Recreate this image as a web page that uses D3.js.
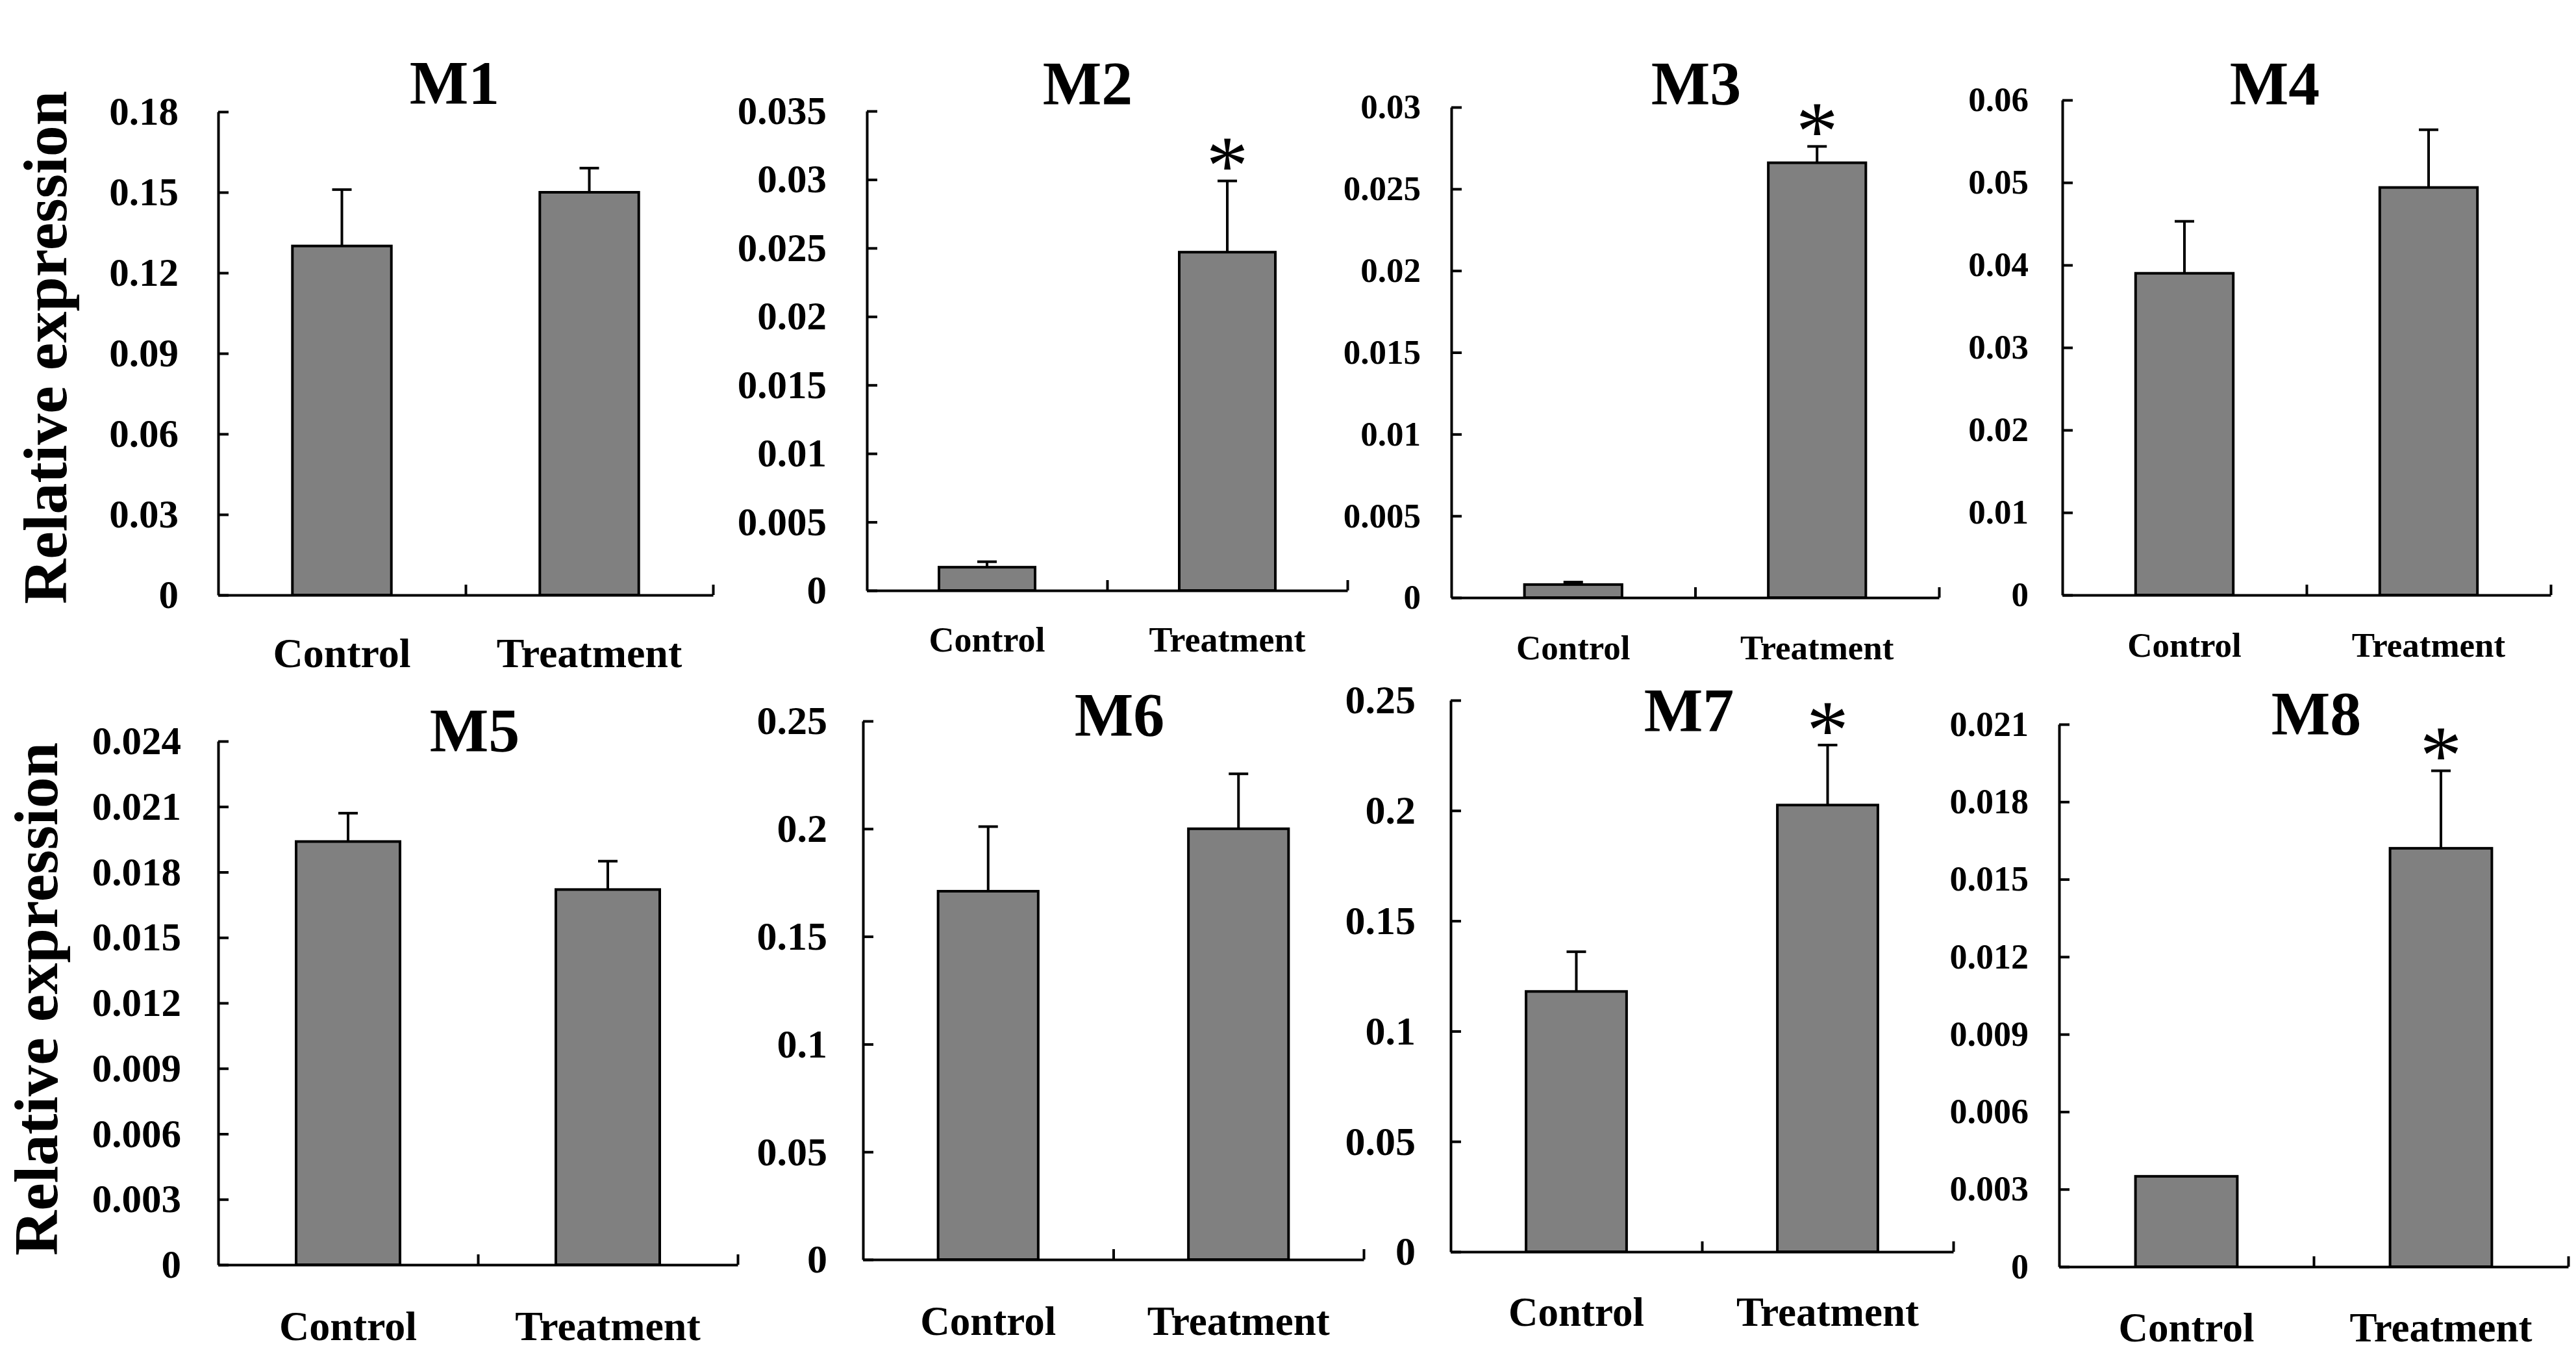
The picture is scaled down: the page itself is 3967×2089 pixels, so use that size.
<!DOCTYPE html>
<html>
<head>
<meta charset="utf-8">
<script src="https://cdn.jsdelivr.net/npm/d3@7"></script>
<style>
  body { margin: 0; background: #fff; }
  svg { display: block; }
  text { font-family: "Liberation Serif", "Times New Roman", serif; font-weight: bold; fill: #000; }
</style>
</head>
<body>
<script>
// Datos
var genes = ["M1", "M2", "M3", "M4", "M5", "M6", "M7", "M8"];
var categories = ["Control", "Treatment"];
var controlMean = [0.130, 0.0017, 0.0008, 0.039, 0.0194, 0.171, 0.118, 0.0035];
var controlErr = [0.021, 0.0004, 0.00015, 0.0063, 0.0013, 0.030, 0.018, 0];
var treatmentMean = [0.150, 0.0247, 0.0266, 0.0494, 0.0172, 0.200, 0.2025, 0.0162];
var treatmentErr = [0.009, 0.0052, 0.001, 0.007, 0.0013, 0.0255, 0.0272, 0.0030];
var significant = [false, true, true, false, false, false, true, true];
var yMax = [0.18, 0.035, 0.03, 0.06, 0.024, 0.25, 0.25, 0.021];
var yStep = [0.03, 0.005, 0.005, 0.01, 0.003, 0.05, 0.05, 0.003];
var yLabel = "Relative expression";

// Posicion de cada panel en el lienzo
var panels = [
  {x0: 336, x1: 1098, yTop: 172, y0: 916, tickFont: 61, tickPad: 61, catFont: 64, catY: 1027, titleX: 700, titleY: 160},
  {x0: 1335, x1: 2075, yTop: 171, y0: 909, tickFont: 61, tickPad: 62, catFont: 54, catY: 1003, titleX: 1675, titleY: 161},
  {x0: 2235, x1: 2986, yTop: 165, y0: 920, tickFont: 53, tickPad: 47, catFont: 53, catY: 1015, titleX: 2612, titleY: 161},
  {x0: 3176, x1: 3928, yTop: 154, y0: 916, tickFont: 53, tickPad: 52, catFont: 53, catY: 1011, titleX: 3503, titleY: 161},
  {x0: 336, x1: 1136, yTop: 1141, y0: 1947, tickFont: 61, tickPad: 57, catFont: 64, catY: 2063, titleX: 731, titleY: 1157},
  {x0: 1329, x1: 2100, yTop: 1110, y0: 1939, tickFont: 62, tickPad: 55, catFont: 63, catY: 2055, titleX: 1724, titleY: 1133},
  {x0: 2234, x1: 3008, yTop: 1078, y0: 1927, tickFont: 62, tickPad: 54, catFont: 63, catY: 2041, titleX: 2601, titleY: 1126},
  {x0: 3171, x1: 3955, yTop: 1115, y0: 1950, tickFont: 54, tickPad: 47, catFont: 63, catY: 2065, titleX: 3567, titleY: 1131}
];
var rowLabels = [{x: 102, y: 535}, {x: 88, y: 1538}];

var width = 3967, height = 2089;
var lineW = 4, capHalf = 15, tickLen = 16, starSize = 130;

var svg = d3.select("body").append("svg")
  .attr("width", width)
  .attr("height", height);

svg.append("rect").attr("width", width).attr("height", height).attr("fill", "#fff");

var fmt = function(v) { return String(+v.toFixed(4)); };

genes.forEach(function(gene, i) {
  var p = panels[i];
  var g = svg.append("g");

  var y = d3.scaleLinear().domain([0, yMax[i]]).range([p.y0, p.yTop]);
  var x = d3.scaleBand().domain(categories).range([p.x0, p.x1])
    .paddingInner(0.6).paddingOuter(0.3);
  var xt = d3.scaleLinear().domain([0, 2]).range([p.x0, p.x1]);

  var ticks = d3.range(0, Math.round(yMax[i] / yStep[i]) + 1).map(function(k) { return k * yStep[i]; });

  // Eje Y con marcas hacia dentro
  var ya = g.append("g")
    .call(d3.axisLeft(y).tickValues(ticks).tickFormat(fmt)
      .tickSize(-tickLen).tickSizeOuter(0).tickPadding(p.tickPad))
    .attr("transform", "translate(" + p.x0 + ",0)")
    .attr("font-size", p.tickFont);
  ya.selectAll("line, path").attr("stroke", "#000").attr("stroke-width", lineW);

  // Eje X: solo marcas en los limites de categoria
  var xa = g.append("g")
    .attr("transform", "translate(0," + p.y0 + ")")
    .call(d3.axisBottom(xt).tickValues([1, 2]).tickFormat("")
      .tickSize(-tickLen).tickSizeOuter(0));
  xa.selectAll("line, path").attr("stroke", "#000").attr("stroke-width", lineW);

  var rows = categories.map(function(c, j) {
    return {
      cat: c,
      mean: j === 0 ? controlMean[i] : treatmentMean[i],
      err: j === 0 ? controlErr[i] : treatmentErr[i]
    };
  });

  g.selectAll("rect.bar")
    .data(rows)
    .enter()
    .append("rect")
    .attr("class", "bar")
    .attr("x", function(d) { return x(d.cat); })
    .attr("y", function(d) { return y(d.mean); })
    .attr("width", x.bandwidth())
    .attr("height", function(d) { return y(0) - y(d.mean); })
    .attr("fill", "#808080")
    .attr("stroke", "#000")
    .attr("stroke-width", lineW);

  var withErr = rows.filter(function(d) { return d.err > 0; });
  var cx = function(d) { return x(d.cat) + x.bandwidth() / 2; };

  g.selectAll("line.err")
    .data(withErr)
    .enter()
    .append("line")
    .attr("class", "err")
    .attr("x1", cx).attr("x2", cx)
    .attr("y1", function(d) { return y(d.mean); })
    .attr("y2", function(d) { return y(d.mean + d.err); })
    .attr("stroke", "#000").attr("stroke-width", lineW);

  g.selectAll("line.cap")
    .data(withErr)
    .enter()
    .append("line")
    .attr("class", "cap")
    .attr("x1", function(d) { return cx(d) - capHalf; })
    .attr("x2", function(d) { return cx(d) + capHalf; })
    .attr("y1", function(d) { return y(d.mean + d.err); })
    .attr("y2", function(d) { return y(d.mean + d.err); })
    .attr("stroke", "#000").attr("stroke-width", lineW);

  // Etiquetas de categoria
  g.selectAll("text.cat")
    .data(categories)
    .enter()
    .append("text")
    .attr("class", "cat")
    .attr("x", function(c) { return x(c) + x.bandwidth() / 2; })
    .attr("y", p.catY)
    .attr("text-anchor", "middle")
    .attr("font-size", p.catFont)
    .text(function(c) { return c; });

  // Titulo
  g.append("text")
    .attr("x", p.titleX)
    .attr("y", p.titleY)
    .attr("text-anchor", "middle")
    .attr("font-size", 96)
    .text(gene);

  // Asterisco de significancia
  if (significant[i]) {
    var t = rows[1];
    g.append("text")
      .attr("x", cx(t))
      .attr("y", y(t.mean + t.err) - 14 + 0.26 * starSize)
      .attr("text-anchor", "middle")
      .attr("font-size", starSize)
      .style("font-weight", "normal")
      .text("*");
  }
});

rowLabels.forEach(function(r) {
  svg.append("text")
    .attr("transform", "translate(" + r.x + "," + r.y + ") rotate(-90)")
    .attr("text-anchor", "middle")
    .attr("font-size", 96)
    .text(yLabel);
});
</script>
</body>
</html>
